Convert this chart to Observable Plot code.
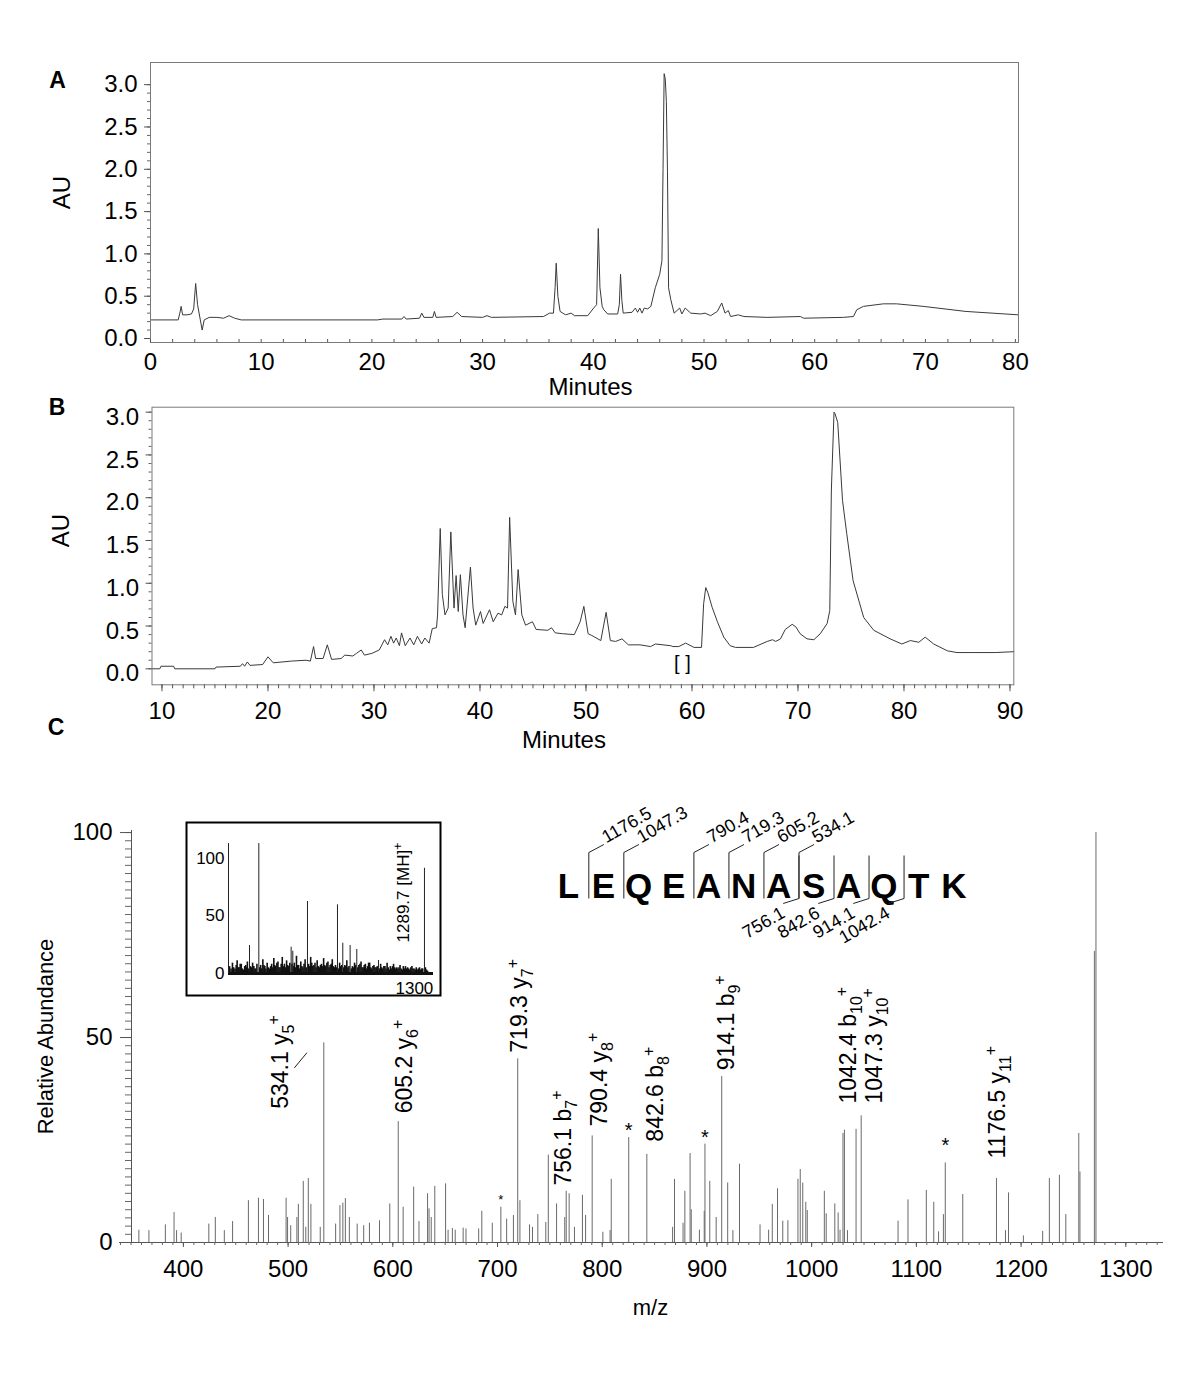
<!DOCTYPE html>
<html><head><meta charset="utf-8">
<script src="https://cdn.jsdelivr.net/npm/d3@7"></script>
<script src="https://cdn.jsdelivr.net/npm/@observablehq/plot@0.6"></script>
<style>
body{margin:0;background:#fff;}
#fig{position:relative;width:1200px;height:1385px;background:#fff;overflow:hidden;}
#fig > svg{position:absolute;left:0;top:0;max-width:none;}
</style></head><body><div id="fig"></div>
<script>
// ---------- Panel A chromatogram (minutes, AU) ----------
const aTime = [0,2.5,2.65,2.77,2.9,3.3,3.7,3.9,4.08,4.25,4.5,4.67,4.85,5.3,6.0,6.6,7.1,7.6,8.2,20.5,21,22.7,22.9,23.1,24.3,24.5,24.7,25.5,25.65,25.8,27.3,27.7,28.1,30.0,30.4,30.8,35.5,36.05,36.4,36.55,36.65,36.8,37.0,37.5,38.0,38.3,39.5,39.97,40.3,40.45,40.6,40.8,40.95,41.3,42.2,42.35,42.46,42.58,42.7,43.5,43.8,44.0,44.2,44.4,44.6,44.9,45.2,45.6,46.0,46.2,46.3,46.4,46.5,46.6,46.7,46.8,47.0,47.3,47.8,48.0,48.3,48.8,49.7,50.1,50.6,51.2,51.6,51.9,52.2,52.4,53.1,53.6,55.7,58.7,59.0,62.6,63.5,63.8,64.4,66.2,67.4,69.8,74.5,80.33];
const aAU   = [0.22,0.22,0.30,0.38,0.28,0.28,0.29,0.35,0.65,0.40,0.22,0.10,0.22,0.25,0.25,0.24,0.27,0.24,0.22,0.22,0.23,0.23,0.26,0.23,0.24,0.30,0.25,0.25,0.32,0.25,0.26,0.31,0.26,0.25,0.27,0.25,0.26,0.30,0.30,0.60,0.89,0.50,0.32,0.28,0.30,0.27,0.27,0.35,0.40,1.30,0.60,0.38,0.34,0.29,0.29,0.40,0.76,0.45,0.30,0.31,0.36,0.31,0.36,0.30,0.36,0.35,0.38,0.60,0.76,0.92,2.00,3.13,3.07,2.80,1.97,0.60,0.46,0.30,0.36,0.29,0.36,0.30,0.29,0.30,0.27,0.32,0.42,0.30,0.33,0.26,0.28,0.26,0.25,0.26,0.24,0.25,0.26,0.34,0.38,0.41,0.41,0.38,0.32,0.28];
const aTickX = [0,10,20,30,40,50,60,70,80];
const aMinorX = [0,2,4,6,8,10,12,14,16,18,20,22,24,26,28,30,32,34,36,38,40,42,44,46,48,50,52,54,56,58,60,62,64,66,68,70,72.5,75,77.5,80];
const auTicks = [0,0.5,1,1.5,2,2.5,3];

// ---------- Panel B chromatogram (minutes, AU) ----------
const bTime = [9.06,9.8,9.9,11.1,11.2,15.0,15.1,17.4,17.6,17.8,18.05,18.3,19.5,20.0,20.5,22.2,23.6,24.0,24.3,24.5,25.2,25.6,26.0,26.9,27.25,28.0,28.35,28.8,29.1,29.8,30.5,31.0,31.3,31.6,31.85,32.1,32.4,32.6,32.95,33.4,33.75,34.1,34.5,34.8,35.2,35.5,35.9,36.0,36.25,36.45,36.7,37.0,37.25,37.55,37.75,37.95,38.15,38.4,38.6,39.1,39.35,39.6,40.05,40.3,40.9,41.25,41.7,42.05,42.35,42.6,42.8,43.1,43.35,43.6,43.95,44.3,44.95,45.3,46.4,46.75,47.1,47.8,48.9,49.45,49.8,50.2,50.55,51.4,51.9,52.3,52.8,53.4,54.0,55.1,56.1,56.55,58.0,58.2,58.75,59.4,60.2,60.9,61.1,61.3,61.5,61.9,62.4,63.0,63.6,64.1,65.8,67.1,67.6,67.9,68.35,68.8,69.45,69.8,70.2,70.85,71.5,72.1,72.75,73.0,73.15,73.4,73.5,73.75,74.2,74.6,75.2,76.2,77.15,78.7,79.8,80.6,81.4,82.0,82.8,84.1,85.0,86.6,88.6,90.36];
const bAU   = [0.0,0.0,0.03,0.03,0.0,0.0,0.02,0.03,0.06,0.03,0.08,0.04,0.05,0.14,0.07,0.09,0.10,0.09,0.26,0.12,0.12,0.28,0.11,0.12,0.16,0.15,0.18,0.22,0.16,0.18,0.22,0.34,0.28,0.38,0.30,0.36,0.27,0.42,0.27,0.36,0.28,0.38,0.29,0.36,0.30,0.47,0.48,0.63,1.64,0.87,0.63,0.71,1.60,0.71,1.09,0.67,1.10,0.63,0.48,1.19,0.71,0.51,0.67,0.53,0.69,0.55,0.65,0.63,0.73,0.71,1.77,0.79,0.63,1.16,0.63,0.51,0.55,0.46,0.45,0.48,0.42,0.41,0.40,0.55,0.73,0.41,0.39,0.33,0.66,0.33,0.32,0.35,0.28,0.28,0.26,0.29,0.27,0.26,0.26,0.30,0.25,0.25,0.76,0.95,0.89,0.72,0.55,0.37,0.27,0.25,0.25,0.32,0.34,0.32,0.35,0.46,0.52,0.49,0.41,0.35,0.34,0.41,0.53,0.68,2.09,3.00,2.98,2.88,1.97,1.58,1.03,0.60,0.45,0.35,0.29,0.33,0.31,0.37,0.29,0.21,0.19,0.19,0.19,0.20];
const bTickX = [10,20,30,40,50,60,70,80,90];
const bMinorX = d3.range(10, 91);
const bMarkText = ["[ ]"], bMarkTime = [59.1], bMarkAU = [0.06];

// ---------- Panel C MS/MS spectrum (m/z, relative abundance) ----------
const msMz  = [357.5,367.1,382.8,391.1,393.5,397.9,424.3,430.5,439.1,447,462.1,471.7,476.5,481.3,498.1,499.5,502.5,508.4,509.8,514.5,516.9,519.3,521.8,530.7,534.1,545.4,549.5,552.3,554.7,558.5,566,572.2,577.7,587.3,597.1,605.2,609.9,619.9,625,633.2,634.6,636.7,640.1,650.4,652.8,656.9,659.6,667.2,669.9,682,685,695,703.2,708.7,715.2,719.3,721.4,730.6,733.4,738.5,746.1,748.5,756.4,764.2,765.6,768.4,773.5,781.1,784.1,790.4,800.6,807.5,808.6,825.3,842.6,867.2,869,877.2,878.9,883.9,885,892.8,897.4,898.1,902.7,908.8,914.1,919.8,924.8,931.1,950.7,958.9,962.4,967.4,972.4,977.3,986.9,989.1,991.5,994.4,995.8,1012.1,1013.9,1022.1,1025.3,1027.1,1029.9,1031.3,1034.2,1042.4,1047.3,1082.5,1092,1109.5,1116.6,1121.2,1125.8,1127.6,1144.3,1176.5,1185.1,1188,1202.2,1220.6,1227,1236.6,1242.7,1255.1,1256.2,1270,1271.5];
const msInt = [3.0,2.9,4.3,7.3,2.9,2.3,4.5,6.1,2.9,5.1,10.2,10.8,10.5,6.6,10.8,6.1,4.1,6.1,9.3,14.9,3.7,15.6,9.3,3.7,48.7,4.5,9.0,9.6,10.7,6.1,4.5,4.1,4.7,5.3,9.4,29.5,8.6,13.5,5.1,11.9,8.2,6.1,13.7,14.3,3.0,3.4,3.0,3.5,3.3,3.3,7.6,4.7,8.6,5.7,6.6,44.8,10.2,4.3,3.7,6.8,4.9,21.3,9.4,6.1,12.5,11.9,3.7,11.5,6.6,26.0,2.5,2.9,15.4,25.6,21.5,3.7,15.4,4.7,12.5,21.7,8.0,3.0,7.6,24.0,14.9,6.1,40.5,14.5,2.9,19.1,4.3,3.0,9.3,13.1,5.2,5.3,15.4,17.8,14.5,9.8,7.8,12.5,7.0,9.4,7.2,3.0,26.6,27.4,2.9,27.6,30.9,5.2,10.4,12.7,9.8,2.6,6.8,19.4,11.7,15.6,2.9,12.1,1.6,2.7,15.6,16.4,6.8,26.6,17.2,71,100];
const mzTicks = [400,500,600,700,800,900,1000,1100,1200,1300];
const abTicks = [0,50,100];
// ion labels
const ionText = ["534.1 y5+","605.2 y6+","719.3 y7+","756.1 b7+","790.4 y8+","842.6 b8+","914.1 b9+","1042.4 b10+","1047.3 y10+","1176.5 y11+"];
const ionLabelMz   = [492.4,611.3,721.0,763.2,797.5,851.2,918.7,1035,1060,1178];
const ionLabelBase = [32.6,31.5,46.3,13.9,28.3,24.6,42.0,33.9,33.9,20.5];
const starMz = [703.2,825.3,898.1,1127.6], starAb = [10.3,27.4,25.7,23.7], starPt = [13,20,20,20];
const leaderMz = [506,518], leaderAb = [42.6,46.3];

// ---------- Inset: full MS scan ----------
const insetMz  = [316.8,368.6,548.4,557.6,639.2,806,835.6,876.4,913.4,1033.9,1289.7];
const insetInt = [24.3,113,22.9,19.4,62.6,59.7,26.3,24.3,20.9,11.3,91.5];
const noiseMz  = [206,214,222,229,236,243,248,254,259,265,271,277,283,290,296,301,305,311,322,328,334,341,347,352,358,374,379,385,391,397,402,408,415,421,428,434,440,446,452,457,463,469,475,481,487,493,499,505,511,517,523,529,535,541,553,562,566,572,578,584,590,596,602,608,614,620,626,632,645,651,657,663,669,675,681,687,693,699,705,711,717,723,729,735,741,747,753,759,765,771,777,783,789,795,801,812,818,824,830,841,847,852,858,864,870,883,889,895,901,907,919,925,931,937,943,949,955,961,967,973,979,985,991,997,1003,1009,1015,1021,1027,1040,1046,1052,1058,1064,1070,1076,1082,1088,1094,1100,1106,1112,1118,1124,1130,1136,1142,1148,1154,1160,1166,1172,1178,1184,1190,1196,1202,1208,1214,1220,1226,1232,1238,1244,1250,1256,1262,1268,1274,1280,1295,1301,1307,1313,1319,1325,1331];
const noiseInt = [6,4,9,5,4,7,11,5,5,8,8,4,3,6,7,5,10,4,6,5,9,6,4,4,8,5,7,4,12,7,6,4,9,5,4,6,8,5,13,7,6,9,10,5,5,8,14,6,8,5,11,7,6,9,8,6,9,5,15,7,7,4,10,6,5,8,12,5,8,6,14,9,6,7,9,5,11,6,5,7,8,6,13,7,6,9,10,5,7,8,12,6,5,7,5,4,9,6,7,5,7,6,11,5,6,4,6,5,9,7,5,7,8,10,5,5,7,8,4,6,9,9,5,4,6,7,5,5,6,4,8,5,4,6,6,4,9,5,3,6,4,6,8,5,4,5,4,5,7,4,3,6,4,6,4,5,4,3,5,6,4,4,3,5,3,4,5,3,4,4,5,3,2];
const insetYTicks = [0,50,100], insetXTicks = [1300];
const mhText = ["1289.7 [MH]+"], mhMz = [1175], mhBase = [27];

// ---------- Peptide sequence with fragment sites ----------
const residues = ["L","E","Q","E","A","N","A","S","A","Q","T","K"];
const yIonSite = [1,2,4,5,6,7];
const yIonMass = ["1176.5","1047.3","790.4","719.3","605.2","534.1"];
const bIonSite = [7,8,9,10];
const bIonMass = ["756.1","842.6","914.1","1042.4"];

// ================= drawing =================
const FONT = "'Liberation Sans', Arial, Helvetica, sans-serif";
const W = 1200, H = 1385;
const fig = document.getElementById("fig");
function overlay(opts) {
  const svg = Plot.plot({width: W, height: H,
    style: {fontFamily: FONT, background: "transparent", color: "#000", overflow: "visible"}, ...opts});
  fig.appendChild(svg);
  return svg;
}
const f1 = d3.format(".1f");
const fInt = d3.format("d");
const yMinor = d3.range(0, 31).map(i => i / 10);
// the reference time axis of panel A is compressed after 70 min (70->80 spans 9 px/min instead of 11)
const warpA = t => t <= 70 ? t : 70 + (t - 70) * 0.813;
const unwarpA = v => v <= 70 ? v : 70 + (v - 70) / 0.813;

// Panel A
overlay({
  marginLeft: 150, marginRight: W - 1018, marginTop: 62, marginBottom: H - 342,
  x: {domain: [0, 78.41], label: null},
  y: {domain: [-0.047, 3.262], label: null},
  marks: [
    Plot.lineY(aAU, {x: aTime.map(warpA), stroke: "#3a3a3a", strokeWidth: 1}),
    Plot.frame({stroke: "#7a7a7a"}),
    Plot.tickX(aMinorX.map(warpA), {x: d => d, insetTop: 277, stroke: "#555"}),
    Plot.axisX({ticks: aTickX.map(warpA), tickSize: 0, tickPadding: 10, tickFormat: v => fInt(Math.round(unwarpA(v))), fontSize: 24, label: null}),
    Plot.axisY({ticks: yMinor, tickSize: 3, fill: "none", stroke: "#666", label: null}),
    Plot.axisY({ticks: auTicks, tickSize: 6, tickPadding: 7, tickFormat: f1, fontSize: 24, stroke: "#555", label: null}),
    Plot.text(["AU"], {text: d => d, frameAnchor: "left", dx: -88, dy: -10, rotate: -90, fontSize: 24, textAnchor: "middle", lineAnchor: "middle"}),
    Plot.text(["Minutes"], {text: d => d, frameAnchor: "bottom", dx: 6, dy: 45, fontSize: 24, textAnchor: "middle", lineAnchor: "middle"}),
    Plot.text(["A"], {text: d => d, frameAnchor: "top-left", dx: -93, dy: 18, fontSize: 23, fontWeight: "bold", textAnchor: "middle", lineAnchor: "middle"})
  ]
});

// Panel B
overlay({
  marginLeft: 151.5, marginRight: W - 1013.3, marginTop: 406.7, marginBottom: H - 684.3,
  x: {domain: [9.06, 90.36], label: null},
  y: {domain: [-0.187, 3.058], label: null},
  marks: [
    Plot.lineY(bAU, {x: bTime, stroke: "#3a3a3a", strokeWidth: 1}),
    Plot.frame({stroke: "#7a7a7a"}),
    Plot.axisX({ticks: bMinorX, tickSize: 4, fill: "none", stroke: "#555", label: null}),
    Plot.axisX({ticks: bTickX, tickSize: 7, tickPadding: 10, tickFormat: fInt, fontSize: 24, stroke: "#555", label: null}),
    Plot.axisY({ticks: yMinor, tickSize: 3, fill: "none", stroke: "#666", label: null}),
    Plot.axisY({ticks: auTicks, tickSize: 6, fill: "none", stroke: "#555", label: null}),
    Plot.axisY({ticks: auTicks, tickSize: 6, tickPadding: 7, tickFormat: f1, fontSize: 24, stroke: "none", dy: 5, label: null}),
    Plot.text(bMarkText, {x: bMarkTime, y: bMarkAU, text: d => d, fontSize: 20}),
    Plot.text(["AU"], {text: d => d, frameAnchor: "left", dx: -90.5, dy: -15.5, rotate: -90, fontSize: 24, textAnchor: "middle", lineAnchor: "middle"}),
    Plot.text(["Minutes"], {text: d => d, frameAnchor: "bottom", dx: -19, dy: 56, fontSize: 24, textAnchor: "middle", lineAnchor: "middle"}),
    Plot.text(["B"], {text: d => d, frameAnchor: "top-left", dx: -95, dy: 0, fontSize: 23, fontWeight: "bold", textAnchor: "middle", lineAnchor: "middle"})
  ]
});

// Panel C
const svgC = overlay({
  marginLeft: 119, marginRight: W - 1163, marginTop: 830, marginBottom: H - 1242,
  x: {domain: [339, 1336], label: null},
  y: {domain: [0, 100.5], label: null},
  marks: [
    Plot.ruleX(msMz, {x: msMz, y1: 0, y2: msInt, stroke: "#6a6a6a", strokeWidth: 1}),
    Plot.ruleY([0], {stroke: "#555"}),
    Plot.ruleX([339], {dx: 12, stroke: "#555"}),
    Plot.axisX({ticks: d3.range(340, 1331, 10), tickSize: 3, fill: "none", stroke: "#666", label: null}),
    Plot.axisX({ticks: mzTicks, tickSize: 5, tickPadding: 12, tickFormat: fInt, fontSize: 24, stroke: "#555", label: null}),
    Plot.axisY({ticks: d3.range(0, 101, 2), tickSize: 6, dx: 12, fill: "none", stroke: "#666", label: null}),
    Plot.axisY({ticks: abTicks, tickSize: 11, tickPadding: 8, dx: 12, tickFormat: fInt, fontSize: 24, stroke: "#555", label: null}),
    Plot.text(ionText, {x: ionLabelMz, y: ionLabelBase, text: d => d, rotate: -90, textAnchor: "start", lineAnchor: "middle", fontSize: 23}),
    Plot.text(starMz, {x: starMz, y: starAb, text: () => "*", fontSize: (d, i) => starPt[i], lineAnchor: "middle"}),
    Plot.link([0], {x1: leaderMz[0], x2: leaderMz[1], y1: leaderAb[0], y2: leaderAb[1], stroke: "#222"}),
    Plot.text(["Relative Abundance"], {text: d => d, frameAnchor: "left", dx: -74, rotate: -90, fontSize: 22, textAnchor: "middle", lineAnchor: "middle"}),
    Plot.text(["m/z"], {text: d => d, frameAnchor: "bottom", dx: 9, dy: 65, fontSize: 22, textAnchor: "middle", lineAnchor: "middle"}),
    Plot.text(["C"], {text: d => d, frameAnchor: "top-left", dx: -63.5, dy: -103.3, fontSize: 23, fontWeight: "bold", textAnchor: "middle", lineAnchor: "middle"})
  ]
});

// Inset
const svgI = overlay({
  marginLeft: 228, marginRight: W - 433, marginTop: 858, marginBottom: H - 973,
  x: {domain: [200, 1340], label: null},
  y: {domain: [0, 100], label: null},
  marks: [
    Plot.frame({stroke: "#000", strokeWidth: 2, insetLeft: -42, insetRight: -7, insetTop: -36, insetBottom: -22}),
    Plot.ruleX(noiseMz, {x: noiseMz, y1: 0, y2: noiseInt, stroke: "#111", strokeWidth: 1.6}),
    Plot.ruleX(insetMz, {x: insetMz, y1: 0, y2: insetInt, stroke: "#222", strokeWidth: 1}),
    Plot.ruleY([0], {stroke: "#111", strokeWidth: 3}),
    Plot.ruleX([200], {y1: 0, y2: 113, stroke: "#222"}),
    Plot.axisY({ticks: insetYTicks, tickSize: 0, tickPadding: 4, tickFormat: fInt, fontSize: 17, label: null}),
    Plot.axisX({ticks: insetXTicks, tickSize: 0, tickPadding: 8, tickFormat: fInt, fontSize: 17, textAnchor: "end", dx: 7, label: null}),
    Plot.text(mhText, {x: mhMz, y: mhBase, text: d => d, rotate: -90, textAnchor: "start", lineAnchor: "middle", fontSize: 17})
  ]
});

// Sequence with fragment brackets
const brk = k => k - 0.42;
overlay({
  x: {domain: [0, 11], range: [568, 953.3], axis: null},
  y: {domain: [-60, 60], range: [957, 837], axis: null},
  marks: [
    Plot.text(residues, {x: (d, i) => i, y: 11, text: d => d, fontSize: 35, fontWeight: "bold"}),
    Plot.link(yIonSite, {x1: brk, x2: brk, y1: -1, y2: 45, stroke: "#222"}),
    Plot.link(yIonSite, {x1: brk, x2: k => brk(k) + 0.43, y1: 45, y2: 53, stroke: "#222"}),
    Plot.text(yIonSite, {x: k => brk(k) + 0.5, y: 54, text: (k, i) => yIonMass[i], rotate: -30, textAnchor: "start", lineAnchor: "bottom", fontSize: 18}),
    Plot.link(bIonSite, {x1: brk, x2: brk, y1: -1, y2: 42, stroke: "#222"}),
    Plot.link(bIonSite, {x1: brk, x2: k => brk(k) - 0.45, y1: -1, y2: -6, stroke: "#222"}),
    Plot.text(bIonSite, {x: k => brk(k) - 0.55, y: -8, text: (k, i) => bIonMass[i], rotate: -30, textAnchor: "end", lineAnchor: "top", fontSize: 18})
  ]
});

// subscripts / superscripts in ion labels
function decorate(svg) {
  d3.select(svg).selectAll("text").each(function () {
    const t = d3.select(this);
    if (this.querySelector("tspan")) return;
    const s = t.text();
    let m = s.match(/^(.* [a-z])(\d+)\+$/);
    if (m) {
      t.text(null);
      t.append("tspan").text(m[1]);
      t.append("tspan").attr("dy", "6").attr("font-size", "16px").text(m[2]);
      t.append("tspan").attr("dy", "-15").attr("font-size", "16px").text("+");
      return;
    }
    m = s.match(/^(.*\])\+$/);
    if (m) {
      t.text(null);
      t.append("tspan").text(m[1]);
      t.append("tspan").attr("dy", "-7").attr("font-size", "12px").text("+");
    }
  });
}
decorate(svgC);
decorate(svgI);
</script></body></html>
